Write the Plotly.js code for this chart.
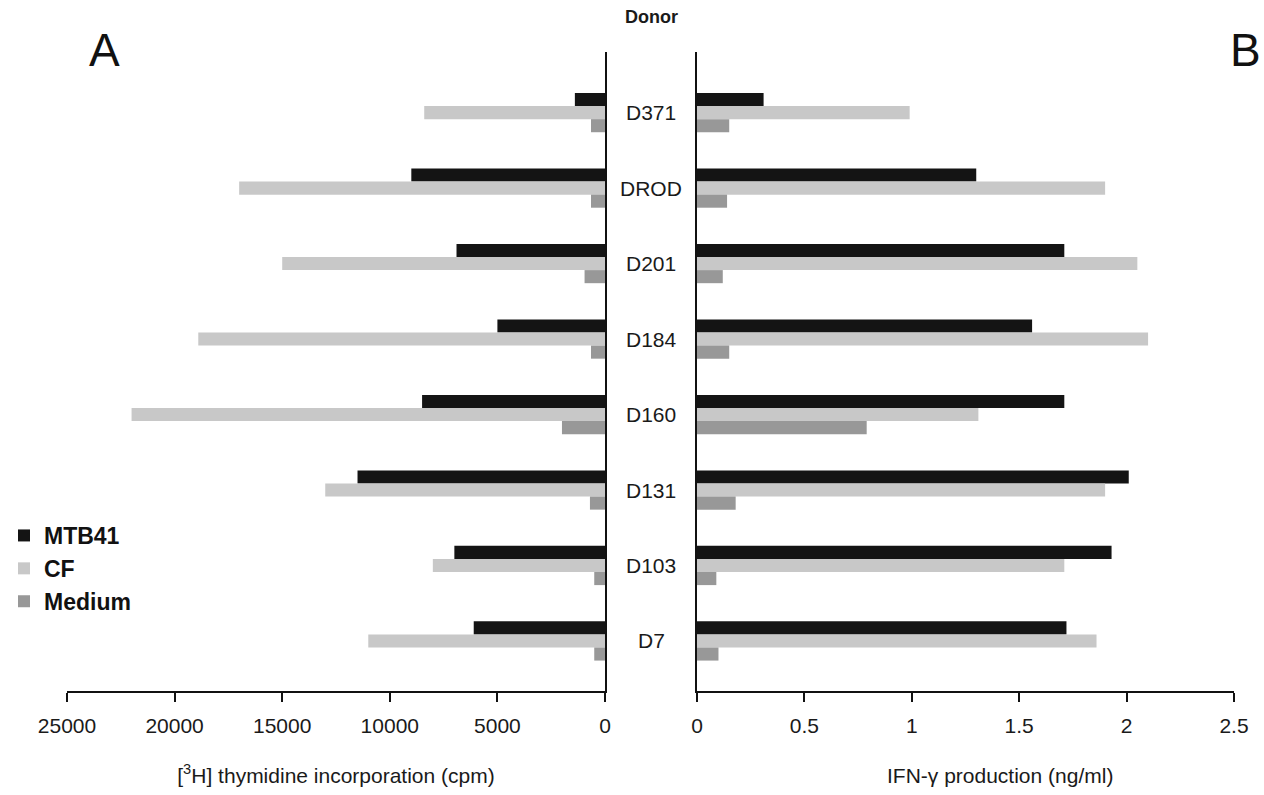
<!DOCTYPE html>
<html>
<head>
<meta charset="utf-8">
<script src="https://cdn.plot.ly/plotly-3.0.1.min.js"></script>
<style>
  html, body { margin: 0; padding: 0; background: #fff; }
  #chart { width: 1264px; height: 795px; }
</style>
</head>
<body>
<div id="chart"></div>
<script>
// ---- data ----
const donors = ['D371', 'DROD', 'D201', 'D184', 'D160', 'D131', 'D103', 'D7'];
const seriesNames = ['MTB41', 'CF', 'Medium'];
// Panel A: [3H] thymidine incorporation (cpm)
const thyMTB41 = [1400, 9000, 6900, 5000, 8500, 11500, 7000, 6100];
const thyCF = [8400, 17000, 15000, 18900, 22000, 13000, 8000, 11000];
const thyMedium = [650, 650, 950, 650, 2000, 700, 500, 500];
// Panel B: IFN-gamma production (ng/ml)
const ifnMTB41 = [0.31, 1.30, 1.71, 1.56, 1.71, 2.01, 1.93, 1.72];
const ifnCF = [0.99, 1.90, 2.05, 2.10, 1.31, 1.90, 1.71, 1.86];
const ifnMedium = [0.15, 0.14, 0.12, 0.15, 0.79, 0.18, 0.09, 0.10];
const thyTicks = [25000, 20000, 15000, 10000, 5000, 0];
const ifnTicks = [0, 0.5, 1, 1.5, 2, 2.5];
const thyTitle = '[<sup>3</sup>H] thymidine incorporation (cpm)';
const ifnTitle = 'IFN-γ production (ng/ml)';

// ---- styling ----
const colors = ['#141414', '#c8c8c8', '#989898'];
const FONT = 'Liberation Sans, Arial, Helvetica, sans-serif';
const W = 1264;
const TXT = '#1a1a1a';

const thySeries = [thyMTB41, thyCF, thyMedium];
const ifnSeries = [ifnMTB41, ifnCF, ifnMedium];

const traces = [];
seriesNames.forEach((name, k) => {
  traces.push({
    type: 'bar', orientation: 'h', name: name,
    x: thySeries[k], y: donors,
    xaxis: 'x', yaxis: 'y',
    marker: { color: colors[k], line: { width: 0 } },
    showlegend: true, legendgroup: name, hoverinfo: 'x+y+name'
  });
});
seriesNames.forEach((name, k) => {
  traces.push({
    type: 'bar', orientation: 'h', name: name,
    x: ifnSeries[k], y: donors,
    xaxis: 'x2', yaxis: 'y2',
    marker: { color: colors[k], line: { width: 0 } },
    showlegend: false, legendgroup: name, hoverinfo: 'x+y+name'
  });
});

const yRange = [donors.length - 1 + 0.663, -0.803];

const annotations = donors.map((d, i) => ({
  text: d, xref: 'paper', yref: 'y', x: 651 / W, y: i,
  xanchor: 'center', yanchor: 'middle', showarrow: false,
  font: { family: FONT, size: 21, color: TXT }
}));
annotations.push({
  text: '<b>Donor</b>', xref: 'paper', yref: 'paper', x: 651 / W, y: 1, yshift: 35,
  xanchor: 'center', yanchor: 'middle', showarrow: false,
  font: { family: FONT, size: 18, color: TXT }
});
annotations.push({
  text: 'A', xref: 'paper', yref: 'paper', x: 104 / W, y: 1, yshift: 2,
  xanchor: 'center', yanchor: 'middle', showarrow: false,
  font: { family: FONT, size: 46, color: '#111' }
});
annotations.push({
  text: 'B', xref: 'paper', yref: 'paper', x: 1245 / W, y: 1, yshift: 2,
  xanchor: 'center', yanchor: 'middle', showarrow: false,
  font: { family: FONT, size: 46, color: '#111' }
});
// Panel B x-axis title (placed right of axis centre as in the original)
annotations.push({
  text: ifnTitle, xref: 'paper', yref: 'paper', x: 1000 / W, y: 0, yshift: -84,
  xanchor: 'center', yanchor: 'middle', showarrow: false,
  font: { family: FONT, size: 21, color: TXT }
});

const axisCommon = {
  showgrid: false, zeroline: false, showline: true,
  linecolor: '#111', linewidth: 2,
  ticks: 'outside', ticklen: 9, tickwidth: 2, tickcolor: '#111',
  tickfont: { family: FONT, size: 21, color: TXT },
  ticklabelstandoff: 6,
  fixedrange: true
};

const layout = {
  width: 1264, height: 795,
  margin: { l: 0, r: 0, t: 52, b: 104 },
  paper_bgcolor: '#fff', plot_bgcolor: '#fff',
  font: { family: FONT, color: TXT },
  barmode: 'group', bargap: 0.48, bargroupgap: 0,
  xaxis: Object.assign({}, axisCommon, {
    domain: [67 / W, 605 / W], range: [25000, 0],
    tickvals: thyTicks, tickformat: 'd', anchor: 'y',
    title: { text: thyTitle, font: { family: FONT, size: 21, color: TXT }, standoff: 32 },
    automargin: false
  }),
  yaxis: {
    type: 'category', categoryorder: 'array', categoryarray: donors,
    range: yRange, anchor: 'x', side: 'right',
    showline: true, linecolor: '#111', linewidth: 2,
    showgrid: false, zeroline: false, ticks: '', showticklabels: false, fixedrange: true
  },
  xaxis2: Object.assign({}, axisCommon, {
    domain: [697 / W, 1234 / W], range: [0, 2.5],
    tickvals: ifnTicks, anchor: 'y2',
    automargin: false
  }),
  yaxis2: {
    type: 'category', categoryorder: 'array', categoryarray: donors,
    range: yRange, anchor: 'x2', side: 'left',
    showline: true, linecolor: '#111', linewidth: 2,
    showgrid: false, zeroline: false, ticks: '', showticklabels: false, fixedrange: true
  },
  legend: {
    x: 4 / W, xanchor: 'left', y: 0.277, yanchor: 'top',
    font: { family: FONT, size: 23, color: '#111', weight: 'bold' },
    bgcolor: 'rgba(0,0,0,0)', borderwidth: 0, tracegroupgap: 0
  },
  annotations: annotations,
  showlegend: true
};

Plotly.newPlot('chart', traces, layout, { displayModeBar: false, staticPlot: true });
</script>
</body>
</html>
